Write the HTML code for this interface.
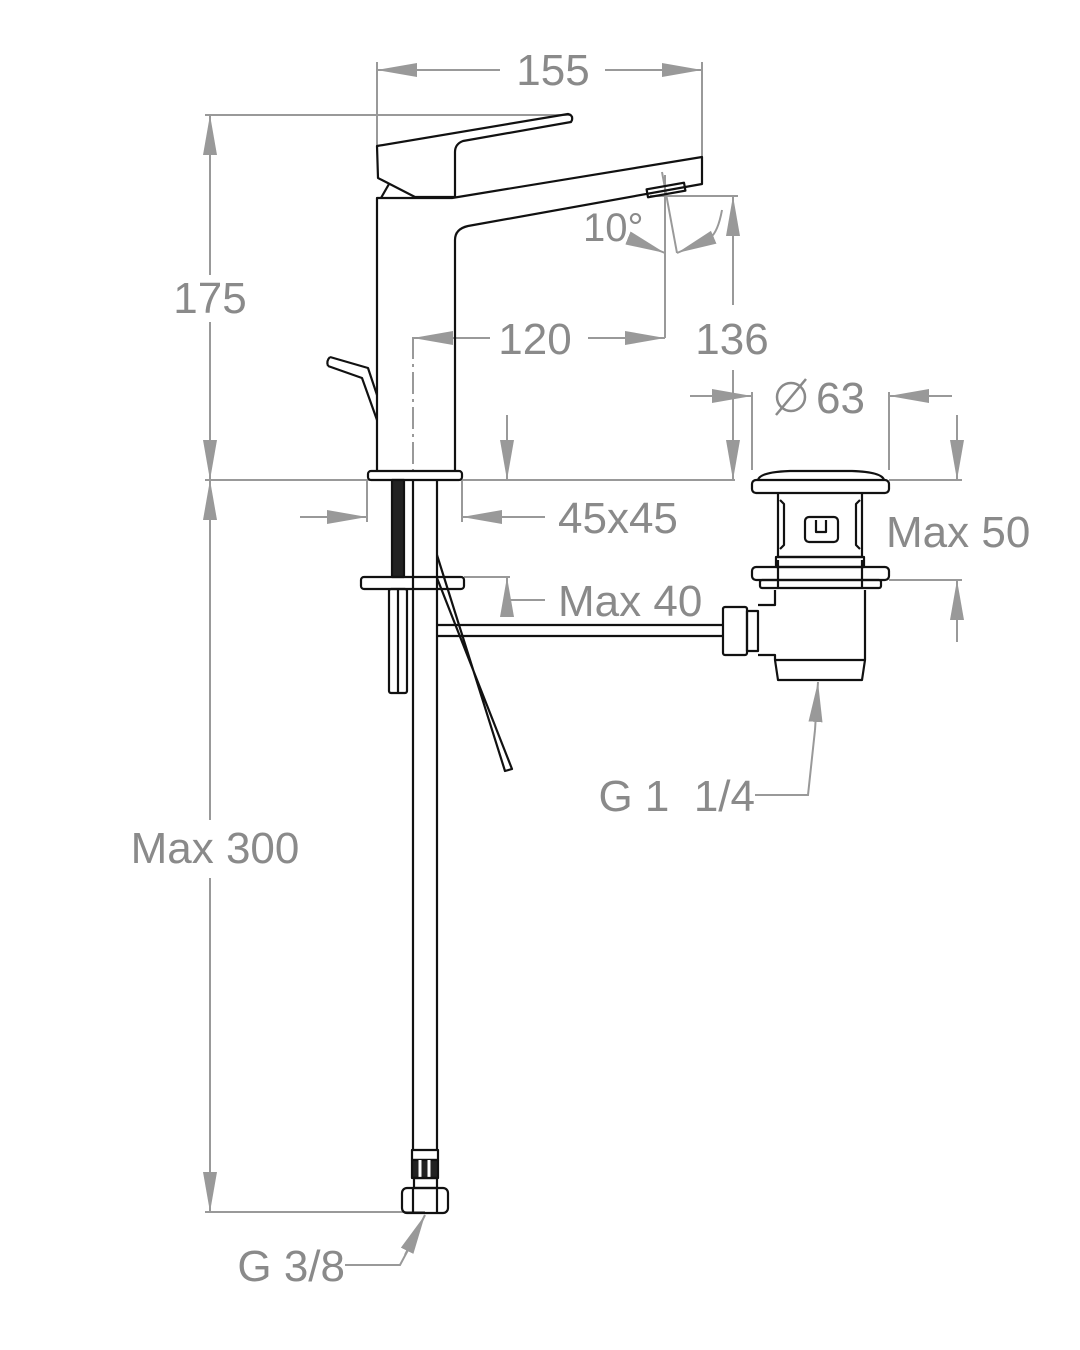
<!DOCTYPE html>
<html><head><meta charset="utf-8"><style>
html,body{margin:0;padding:0;background:#fff}
svg{display:block}
text{font-family:"Liberation Sans",Arial,sans-serif;fill:#8a8a8a;font-size:44px}
</style></head><body>
<svg width="1080" height="1350" viewBox="0 0 1080 1350" xmlns="http://www.w3.org/2000/svg">
<defs>
<marker id="a" viewBox="0 0 40 14" refX="40" refY="7" markerWidth="40" markerHeight="14" markerUnits="userSpaceOnUse" orient="auto"><path d="M0,0 L40,7 L0,14 Z" fill="#999"/></marker>
</defs>
<g stroke="#999" stroke-width="2" fill="none">
<line x1="377" y1="62" x2="377" y2="146"/><line x1="702" y1="62" x2="702" y2="157"/>
<line x1="500" y1="70" x2="377" y2="70" marker-end="url(#a)"/><line x1="605" y1="70" x2="702" y2="70" marker-end="url(#a)"/>
<line x1="205" y1="115" x2="570" y2="115"/>
<line x1="210" y1="275" x2="210" y2="115" marker-end="url(#a)"/><line x1="210" y1="322" x2="210" y2="480" marker-end="url(#a)"/>
<line x1="205" y1="480" x2="735" y2="480"/>
<line x1="210" y1="820" x2="210" y2="480" marker-end="url(#a)"/><line x1="210" y1="878" x2="210" y2="1212" marker-end="url(#a)"/>
<line x1="205" y1="1212" x2="425" y2="1212"/>
<line x1="413" y1="337" x2="413" y2="470" stroke-dasharray="22,5,3,5"/>
<line x1="490" y1="338" x2="413" y2="338" marker-end="url(#a)"/><line x1="588" y1="338" x2="665" y2="338" marker-end="url(#a)"/>
<line x1="665" y1="338" x2="665" y2="175"/>
<line x1="662" y1="172" x2="677" y2="253"/>
<line x1="628" y1="238" x2="665" y2="253" marker-end="url(#a)"/>
<path d="M722,210 Q718,232 710,238"/>
<line x1="712" y1="238" x2="677" y2="253" marker-end="url(#a)"/>
<line x1="650" y1="196" x2="738" y2="196"/>
<line x1="733" y1="305" x2="733" y2="196" marker-end="url(#a)"/><line x1="733" y1="370" x2="733" y2="480" marker-end="url(#a)"/>
<line x1="507" y1="415" x2="507" y2="480" marker-end="url(#a)"/>
<line x1="464" y1="577" x2="510" y2="577"/>
<line x1="507" y1="617" x2="507" y2="577" marker-end="url(#a)"/>
<line x1="507" y1="600" x2="545" y2="600"/>
<line x1="367" y1="480" x2="367" y2="522"/><line x1="462" y1="480" x2="462" y2="522"/>
<line x1="300" y1="517" x2="367" y2="517" marker-end="url(#a)"/><line x1="545" y1="517" x2="462" y2="517" marker-end="url(#a)"/>
<line x1="752" y1="392" x2="752" y2="470"/><line x1="889" y1="392" x2="889" y2="470"/>
<line x1="690" y1="396" x2="752" y2="396" marker-end="url(#a)"/><line x1="952" y1="396" x2="889" y2="396" marker-end="url(#a)"/>
<line x1="889" y1="480" x2="962" y2="480"/><line x1="889" y1="580" x2="962" y2="580"/>
<line x1="957" y1="415" x2="957" y2="480" marker-end="url(#a)"/><line x1="957" y1="642" x2="957" y2="580" marker-end="url(#a)"/>
<polyline points="755,795 808,795 815,730"/>
<line x1="815" y1="730" x2="818" y2="682" marker-end="url(#a)"/>
<polyline points="345,1265 400,1265 408,1250"/>
<line x1="405" y1="1255" x2="425" y2="1215" marker-end="url(#a)"/>
</g>
<circle cx="791" cy="397" r="14" fill="none" stroke="#8a8a8a" stroke-width="2.5"/>
<line x1="776" y1="415" x2="806" y2="379" stroke="#8a8a8a" stroke-width="2.5"/>
<g>
<text x="553" y="85" text-anchor="middle">155</text>
<text x="210" y="313" text-anchor="middle">175</text>
<text x="215" y="863" text-anchor="middle">Max 300</text>
<text x="535" y="354" text-anchor="middle">120</text>
<text x="732" y="354" text-anchor="middle">136</text>
<text x="583" y="241" style="font-size:40px">10°</text>
<text x="816" y="413">63</text>
<text x="558" y="533">45x45</text>
<text x="558" y="616">Max 40</text>
<text x="886" y="547">Max 50</text>
<text x="755" y="811" text-anchor="end">G 1&#160;&#160;1/4</text>
<text x="345" y="1281" text-anchor="end">G 3/8</text>
</g>
<g stroke="#111" stroke-width="2.2" fill="none" stroke-linejoin="round">
<path d="M377,146 L568,114 Q573,115 572,120 L571,122 L463,141 Q455,144 455,152 L455,197 L415,197 L378,178 L377,146 Z"/>
<path d="M381,198 L389,184"/>
<path d="M377,470 L377,198 L452,198 L702,157 L702,184 L468,226 Q455,229 455,240 L455,470"/>
<rect x="647" y="186" width="38" height="8" transform="rotate(-10 666 190)"/>
<path d="M330,357 L368,368 L377,395 M328,366 L362,378 L377,420"/>
<path d="M330,357 Q326,361 328,366"/>
<rect x="368" y="471" width="94" height="9" rx="3"/>
<rect x="392" y="480" width="12" height="97" fill="#222"/>
<rect x="361" y="577" width="103" height="12" rx="3"/>
<rect x="389" y="589" width="18" height="104" rx="2"/>
<line x1="398" y1="589" x2="398" y2="693"/>
<line x1="413" y1="480" x2="413" y2="1150"/>
<line x1="437" y1="480" x2="437" y2="1150"/>
<path d="M437,555 L505,771 L512,769 L437,578"/>
<path d="M437,625 L723,625 M437,636 L723,636"/>
<rect x="723" y="607" width="24" height="48" rx="2"/>
<rect x="747" y="611" width="11" height="40"/>
<path d="M758,605 L775,605 L775,590 M758,655 L775,655 L775,660 L865,660 L865,590 M775,660 L778,680 L862,680 L865,660"/>
<rect x="752" y="567" width="137" height="13" rx="4"/>
<rect x="760" y="580" width="121" height="8" rx="2"/>
<path d="M778,588 L778,560 M862,588 L862,560"/>
<path d="M778,492 L778,557 L862,557 L862,492"/>
<rect x="776" y="557" width="88" height="10"/>
<path d="M780,500 L784,504 L784,545 L780,549 M860,500 L856,504 L856,545 L860,549"/>
<rect x="805" y="517" width="33" height="25" rx="4"/>
<path d="M816,520 L816,532 L826,532 L826,520"/>
<rect x="752" y="480" width="137" height="13" rx="4"/>
<path d="M758,480 Q760,472 790,471 L852,471 Q882,472 884,480"/>
<rect x="412" y="1150" width="26" height="10"/>
<rect x="412" y="1160" width="26" height="18" fill="#222"/>
<line x1="420" y1="1160" x2="420" y2="1178" stroke="#fff" stroke-width="3"/>
<line x1="429" y1="1160" x2="429" y2="1178" stroke="#fff" stroke-width="3"/>
<rect x="414" y="1178" width="23" height="10"/>
<rect x="402" y="1188" width="46" height="25" rx="5"/>
<line x1="413" y1="1188" x2="413" y2="1213"/><line x1="437" y1="1188" x2="437" y2="1213"/>
</g>
</svg>
</body></html>
